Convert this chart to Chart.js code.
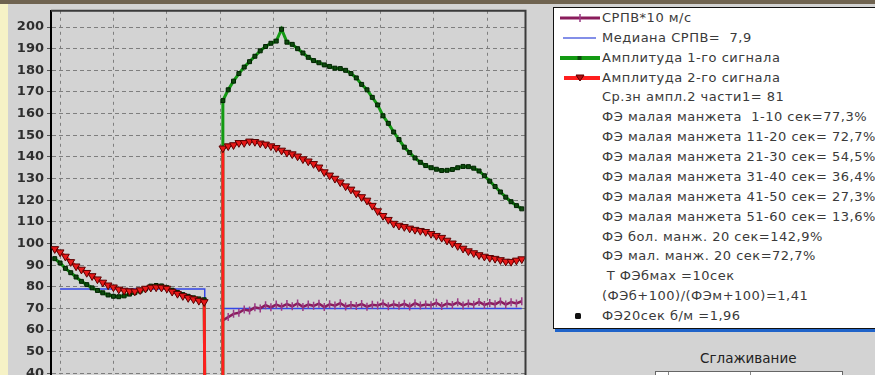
<!DOCTYPE html>
<html>
<head>
<meta charset="utf-8">
<script src="https://cdn.jsdelivr.net/npm/chart.js@4.4.1/dist/chart.umd.min.js"></script>
<style>
    html, body { margin: 0; padding: 0; }
    body {
        width: 875px; height: 375px; overflow: hidden; position: relative;
        background: #d3d3d3; font-family: "DejaVu Sans", sans-serif;
    }
    #topStrip { position: absolute; left: 0; top: 0; width: 875px; height: 4px; background: #6f6350; }
    #leftStrip { position: absolute; left: 0; top: 4px; width: 8px; height: 371px; background: #f6f2c6; }
    #chartBox { position: absolute; left: 0; top: 0; width: 531px; height: 415px; }
    #legend {
        position: absolute; left: 553px; top: 7px; width: 340px; height: 320px;
        background: #fff; border: 1px solid #111; box-shadow: 2px 3px 0 #1f63c9;
    }
    #legend .row {
        position: absolute; left: 0; height: 20px; line-height: 20px;
        font-size: 13px; letter-spacing: 0.5px; color: #3a3a3a; white-space: pre;
    }
    #legend svg { position: absolute; left: 6px; top: 5px; }
    #legend .txt { position: absolute; left: 48px; top: 0; }
    #smoothTitle { position: absolute; left: 700px; top: 350px; font-size: 13.5px; color: #222; }
    #smoothCtrl {
        position: absolute; left: 655px; top: 371px; width: 186px; height: 20px;
        background: #fff; border: 1px solid #666;
    }
    #smoothCtrl div { position: absolute; top: 0; height: 20px; border-left: 1px solid #888; }
</style>
</head>
<body>
<div id="topStrip"></div>
<div id="leftStrip"></div>
<div id="chartBox"><canvas id="pwvChart"></canvas></div>
<div id="legend"></div>
<div id="smoothTitle">Сглаживание</div>
<div id="smoothCtrl"><div style="left:12px"></div><div style="left:94px"></div></div>

<script>
// время, с (до окклюзии)
var timeA = [-1, 0, 1, 2, 3, 4, 5, 6, 7, 8, 9, 10, 11, 12, 13, 14, 15, 16, 17, 18, 19, 20, 21, 22, 23, 24, 25, 26, 27];
var amp1A = [93, 91, 88.5, 86.5, 84.5, 82.5, 81, 79.5, 78.3, 77.2, 76.2, 75.6, 75.4, 75.8, 76.6, 77.3, 78, 79, 80.3, 80.6,
    80.4, 79.6, 78.4, 77.4, 76.4, 75.6, 74.9, 74.4, 74];
var amp2A = [97.5, 96, 94, 91.5, 89.5, 88, 86.5, 85, 83.5, 82, 80.7, 79.8, 78.8, 78.3, 78, 77.9, 78.5, 79.2, 79.7, 79.8,
    79.7, 79.2, 77.8, 76.8, 75.8, 74.9, 74.3, 73.6, 73];

// время, с (после снятия манжеты)
var timeB = [30.5, 31.5, 32.5, 33.5, 34.5, 35.5, 36.5, 37.5, 38.5, 39.5, 40.5, 41.5, 42.5, 43.5, 44.5, 45.5, 46.5, 47.5,
    48.5, 49.5, 50.5, 51.5, 52.5, 53.5, 54.5, 55.5, 56.5, 57.5, 58.5, 59.5, 60.5, 61.5, 62.5, 63.5, 64.5, 65.5, 66.5,
    67.5, 68.5, 69.5, 70.5, 71.5, 72.5, 73.5, 74.5, 75.5, 76.5, 77.5, 78.5, 79.5, 80.5, 81.5, 82.5, 83.5, 84.5, 85.5, 86.5];
var amp1B = [166, 171, 175, 178.5, 181.5, 184, 186.5, 189, 191, 192.5, 193.5, 199, 193, 192, 190, 188, 186, 184.5,
    183.5, 182.5, 181.8, 181, 180.8, 180, 178.5, 176.5, 173.5, 171, 167.5, 164, 159, 155.5, 151.5, 148, 144.5, 142,
    139.5, 137.5, 136, 135, 134.3, 133.7, 133.8, 134.2, 135, 135.6, 135.5, 134.8, 133.5, 131.3, 128.8, 126.3, 123.8,
    121.4, 119.3, 117.5, 116];
var amp2B = [144, 145, 145.5, 146.5, 146.5, 147.2, 147, 146.3, 145.8, 145, 144.2, 143, 142, 141.3, 140.3, 139, 138,
    136.8, 135.2, 133, 131.5, 130, 128.3, 126.5, 125, 123.2, 121.5, 119.9, 117.5, 115, 112.8, 111, 109.2, 108.3, 107.7,
    107, 106.4, 105.9, 105.4, 104.5, 103.6, 102.7, 101.4, 100.1, 98.9, 97.7, 96.5, 95.6, 94.7, 94, 93.4, 93, 92.4,
    91.7, 91.6, 92.2, 92.8];
var pwvB = [64.5, 66, 67.5, 68, 69.5, 69, 70.5, 70, 71.5, 70.5, 71.8, 70.8, 72, 71, 72.3, 70.7, 71.8, 71.2, 72.2, 70.6,
    71.9, 71.3, 72.4, 70.9, 71.6, 71.1, 72, 70.8, 71.7, 71.4, 72.3, 71, 71.9, 71.2, 72.1, 70.9, 72.4, 71.3, 71.8, 71.5,
    72.6, 71.1, 72.2, 71.6, 72.8, 71.4, 72.3, 71.7, 73, 71.6, 72.5, 71.9, 73.2, 71.8, 72.9, 72.3, 73.3];

var medianA = 79;
var medianB = 70;
var occlusionTime = [27.2, 30.5];
var occlusionLevel = 0;

var yTickValues = [30, 40, 50, 60, 70, 80, 90, 100, 110, 120, 130, 140, 150, 160, 170, 180, 190, 200];
var xGridValues = [0, 10, 20, 30, 40, 50, 60, 70, 80];

var legendLines = [
    "СРПВ*10 м/с",
    "Медиана СРПВ=  7,9",
    "Амплитуда 1-го сигнала",
    "Амплитуда 2-го сигнала",
    "Ср.зн ампл.2 части1= 81",
    "ФЭ малая манжета  1-10 сек=77,3%",
    "ФЭ малая манжета 11-20 сек= 72,7%",
    "ФЭ малая манжета 21-30 сек= 54,5%",
    "ФЭ малая манжета 31-40 сек= 36,4%",
    "ФЭ малая манжета 41-50 сек= 27,3%",
    "ФЭ малая манжета 51-60 сек= 13,6%",
    "ФЭ бол. манж. 20 сек=142,9%",
    "ФЭ мал. манж. 20 сек=72,7%",
    " Т ФЭбмах =10сек",
    "(ФЭб+100)/(ФЭм+100)=1,41",
    "ФЭ20сек б/м =1,96"
];

function toPoints(times, values) {
    return times.map(function (t, i) { return { x: t, y: values[i] }; });
}

function withOcclusion(partA, partB) {
    var pts = toPoints(timeA, partA);
    pts.push({ x: occlusionTime[0], y: occlusionLevel });
    pts.push({ x: occlusionTime[1], y: occlusionLevel });
    return pts.concat(toPoints(timeB, partB));
}

var medianPoints = [
    { x: timeA[1], y: medianA },
    { x: timeA[timeA.length - 1] + 0.1, y: medianA },
    { x: timeA[timeA.length - 1] + 0.1, y: amp1A[amp1A.length - 1] },
    { x: 28.5, y: null },
    { x: timeB[0], y: medianB },
    { x: timeB[timeB.length - 1], y: medianB }
];

var frame = {
    id: "frame",
    afterDatasetsDraw: function (chart) {
        var a = chart.chartArea, ctx = chart.ctx;
        ctx.save();
        ctx.strokeStyle = "#3a3a3a";
        ctx.lineWidth = 2;
        ctx.beginPath();
        ctx.moveTo(a.left, a.top);
        ctx.lineTo(a.right, a.top);
        ctx.lineTo(a.right, a.bottom);
        ctx.stroke();
        ctx.restore();
    }
};

function renderPwvChart() {
    var ctx = document.getElementById("pwvChart").getContext("2d");

    return new Chart(ctx, {
        type: "line",
        data: {
            datasets: [
                {
                    label: "СРПВ*10 м/с",
                    data: toPoints(timeB, pwvB),
                    borderColor: "#8a1c5c",
                    borderWidth: 2.5,
                    pointStyle: "line",
                    rotation: 90,
                    pointRadius: 4,
                    pointBorderColor: "#9a3a86",
                    pointBorderWidth: 1.5,
                    order: 2,
                },
                {
                    label: "Медиана СРПВ",
                    data: medianPoints,
                    borderColor: "#3346e6",
                    borderWidth: 1.5,
                    pointRadius: 0,
                    spanGaps: false,
                    order: 3,
                },
                {
                    label: "Амплитуда 1-го сигнала",
                    data: withOcclusion(amp1A, amp1B),
                    borderColor: "#139a13",
                    borderWidth: 3,
                    pointStyle: "rect",
                    pointRadius: 2.8,
                    pointBackgroundColor: "#0d4a0d",
                    pointBorderColor: "#002200",
                    pointBorderWidth: 1,
                    order: 1,
                },
                {
                    label: "Амплитуда 2-го сигнала",
                    data: withOcclusion(amp2A, amp2B),
                    borderColor: "#ff1e1e",
                    borderWidth: 3,
                    pointStyle: "triangle",
                    rotation: 180,
                    pointRadius: 4.5,
                    pointBackgroundColor: "#e81818",
                    pointBorderColor: "#5a0000",
                    pointBorderWidth: 1,
                    order: 0,
                },
            ],
        },
        options: {
            responsive: true,
            maintainAspectRatio: false,
            animation: false,
            layout: { padding: { top: 7, right: 1, left: 0, bottom: 0 } },
            elements: { line: { tension: 0 } },
            plugins: { legend: { display: false }, tooltip: { enabled: false } },
            scales: {
                x: {
                    type: "linear",
                    min: -1.7,
                    max: 87.2,
                    afterBuildTicks: function (scale) {
                        scale.ticks = xGridValues.map(function (v) { return { value: v }; });
                    },
                    afterFit: function (scale) { scale.height = 20; },
                    ticks: { display: false },
                    grid: { color: "#7e7e7e", drawTicks: false },
                    border: { display: false, dash: [3, 4] },
                },
                y: {
                    min: 30,
                    max: 207.5,
                    afterBuildTicks: function (scale) {
                        scale.ticks = yTickValues.map(function (v) { return { value: v }; });
                    },
                    afterFit: function (scale) { scale.width = 51; },
                    ticks: {
                        color: "#2e2e2e",
                        padding: 3,
                        font: { family: "DejaVu Sans", size: 13, weight: "bold" },
                    },
                    grid: { color: "#7e7e7e", tickLength: 4, tickColor: "#555", tickBorderDash: [] },
                    border: { display: true, color: "#000", width: 2, dash: [4, 3] },
                },
            },
        },
        plugins: [frame],
    });
}

function legendMark(ds, index) {
    var svg = '<svg width="42" height="10" viewBox="0 0 42 10">';
    if (index === 0) {
        svg += '<line x1="0" y1="5" x2="40" y2="5" stroke="' + ds.borderColor + '" stroke-width="3"/>';
        svg += '<line x1="20" y1="1" x2="20" y2="9" stroke="' + ds.pointBorderColor + '" stroke-width="1.5"/>';
    } else if (index === 1) {
        svg += '<line x1="3" y1="5" x2="36" y2="5" stroke="#5a6ae0" stroke-width="1.5"/>';
    } else if (index === 2) {
        svg += '<line x1="0" y1="5" x2="40" y2="5" stroke="' + ds.borderColor + '" stroke-width="4"/>';
        svg += '<rect x="17.5" y="3" width="4" height="4" fill="' + ds.pointBackgroundColor + '"/>';
    } else if (index === 3) {
        svg += '<line x1="4" y1="5" x2="40" y2="5" stroke="' + ds.borderColor + '" stroke-width="4"/>';
        svg += '<polygon points="16,2 24,2 20,8" fill="#b01010" stroke="' + ds.pointBorderColor + '" stroke-width="1"/>';
    } else {
        svg += '<rect x="15" y="2" width="6" height="6" rx="1.5" fill="#111"/>';
    }
    return svg + "</svg>";
}

function renderLegend(chart) {
    var box = document.getElementById("legend");
    var html = "";
    legendLines.forEach(function (text, i) {
        var mark = "";
        if (i < chart.data.datasets.length) {
            mark = legendMark(chart.data.datasets[i], i);
        } else if (i === legendLines.length - 1) {
            mark = legendMark(null, i);
        }
        html += '<div class="row" style="top:' + (i * 19.87).toFixed(2) + 'px">' + mark +
            '<span class="txt">' + text + "</span></div>";
    });
    box.innerHTML = html;
}

document.addEventListener("DOMContentLoaded", function () {
    var chart = renderPwvChart();
    renderLegend(chart);
});
</script>
</body>
</html>
